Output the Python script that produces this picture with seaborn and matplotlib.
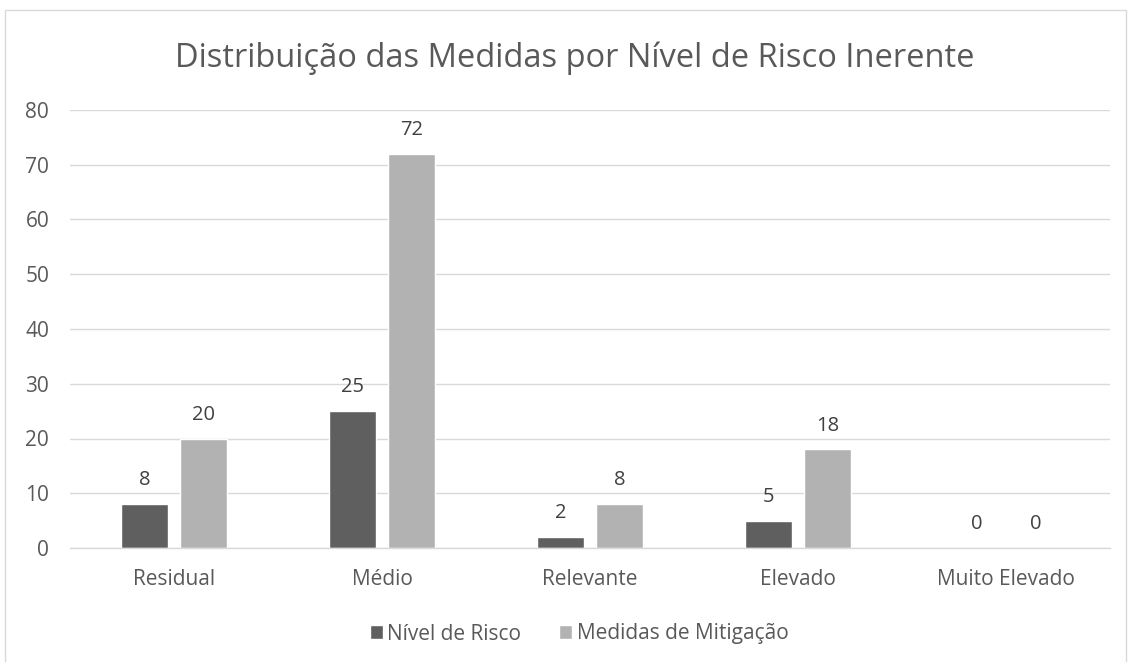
import matplotlib
matplotlib.use("Agg")
import matplotlib.pyplot as plt
import seaborn as sns
import pandas as pd
from matplotlib.patches import Rectangle

categories = ["Residual", "Médio", "Relevante", "Elevado", "Muito Elevado"]
series_names = ["Nível de Risco", "Medidas de Mitigação"]
nivel_risco = [8, 25, 2, 5, 0]
medidas_mitigacao = [20, 72, 8, 18, 0]
y_ticks = [0, 10, 20, 30, 40, 50, 60, 70, 80]
title = "Distribuição das Medidas por Nível de Risco Inerente"

df = pd.DataFrame({
    "Categoria": categories * 2,
    "Série": [series_names[0]] * len(categories) + [series_names[1]] * len(categories),
    "Valor": nivel_risco + medidas_mitigacao,
})

sns.set_theme(style="white")
plt.rcParams['font.family'] = ['Open Sans', 'DejaVu Sans']
text_color = "#595959"

fig = plt.figure(figsize=(11.32, 6.62), dpi=100)
ax = fig.add_axes([70/1132, 1 - 548/662, 1040/1132, 438/662])

sns.barplot(data=df, x="Categoria", y="Valor", hue="Série", order=categories,
            hue_order=series_names, palette=["#5f5f5f", "#b2b2b2"],
            width=0.567, gap=0.204, ax=ax, legend=True, saturation=1)

for c in ax.containers:
    ax.bar_label(c, labels=[f"{int(v)}" for v in c.datavalues], padding=10,
                 fontsize=14.5, color="#404040")

ax.set_ylim(0, 80)
ax.set_yticks(y_ticks)
ax.set_xlim(-0.5, len(categories) - 0.5)
ax.yaxis.grid(True, color="#d9d9d9", linewidth=1)
ax.set_axisbelow(True)
for s in ["top", "right", "left"]:
    ax.spines[s].set_visible(False)
ax.spines["bottom"].set_color("#d9d9d9")
ax.spines["bottom"].set_linewidth(1)
ax.tick_params(axis="both", length=0, labelsize=15, colors=text_color)
ax.tick_params(axis="y", pad=15)
ax.tick_params(axis="x", pad=15)
ax.set_xlabel("")
ax.set_ylabel("")

fig.text(575/1132, 1 - 58/662, title, ha="center", va="center", fontsize=23.5, color=text_color)

leg = ax.legend(loc="center", bbox_to_anchor=(579/1132, 1 - 634/662), bbox_transform=fig.transFigure,
                ncol=2, frameon=False, fontsize=15, handlelength=0.65, handleheight=0.65,
                handletextpad=0.2, columnspacing=1.8, labelcolor=text_color)

fig.patches.append(Rectangle((5/1132, -0.05), 1121/1132, 1 - 10/662 + 0.05,
                             transform=fig.transFigure, fill=False,
                             edgecolor="#d9d9d9", linewidth=1))

fig.savefig("out.png", dpi=100, facecolor="white")
